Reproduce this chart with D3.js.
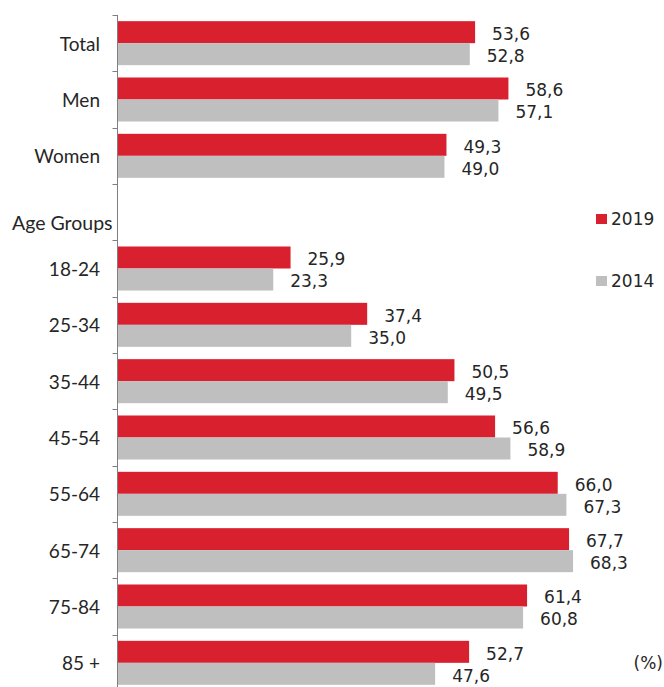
<!DOCTYPE html>
<html>
<head>
<meta charset="utf-8">
<script src="https://cdn.jsdelivr.net/npm/d3@7"></script>
<style>
  html, body { margin: 0; padding: 0; background: #fff; }
  svg { display: block; }
</style>
</head>
<body>
<svg id="chart" width="664" height="687"></svg>
<script>
// ---- data ----
const categories = ["Total", "Men", "Women", "Age Groups", "18-24", "25-34", "35-44", "45-54", "55-64", "65-74", "75-84", "85 +"];
const seriesNames = ["2019", "2014"];
const values2019 = [53.6, 58.6, 49.3, null, 25.9, 37.4, 50.5, 56.6, 66.0, 67.7, 61.4, 52.7];
const values2014 = [52.8, 57.1, 49.0, null, 23.3, 35.0, 49.5, 58.9, 67.3, 68.3, 60.8, 47.6];
const headerCategory = "Age Groups";
const unitLabel = "(%)";

// ---- styles ----
const colors = { "2019": "#d9202f", "2014": "#bfbfbf" };
const catFont = "Lato, 'Open Sans', sans-serif";
const valFont = "'DejaVu Sans', Verdana, sans-serif";
const textColor = "#262626";

const svg = d3.select("#chart");

const x = d3.scaleLinear().domain([0, 80]).range([118, 651]);
const y = d3.scaleBand().domain(categories).range([15, 691]).paddingInner(0).paddingOuter(0);
const yInner = d3.scaleBand().domain(seriesNames).range([0, y.bandwidth()]).paddingInner(0).paddingOuter(0.28);

const rows = categories.map((c, i) => ({ cat: c, "2019": values2019[i], "2014": values2014[i] }));
const fmt = v => d3.format(".1f")(v).replace(".", ",");

// bars
const groups = svg.append("g").selectAll("g")
  .data(rows.filter(r => r["2019"] != null))
  .join("g")
  .attr("transform", d => `translate(0,${y(d.cat)})`);

groups.selectAll("rect")
  .data(d => seriesNames.map(s => ({ s, v: d[s] })))
  .join("rect")
  .attr("x", x(0))
  .attr("y", d => yInner(d.s))
  .attr("width", d => x(d.v) - x(0))
  .attr("height", yInner.bandwidth())
  .attr("fill", d => colors[d.s]);

groups.selectAll("text")
  .data(d => seriesNames.map(s => ({ s, v: d[s] })))
  .join("text")
  .attr("x", d => x(d.v) + 17)
  .attr("y", d => yInner(d.s) + yInner.bandwidth() / 2 + 2)
  .attr("dominant-baseline", "central")
  .attr("font-family", valFont)
  .attr("font-size", 17)
  .attr("fill", textColor)
  .text(d => fmt(d.v));

// axis line (domain) via d3 axis, no ticks at centers
const axisG = svg.append("g")
  .attr("transform", `translate(${x(0) - 0.5},0)`)
  .call(d3.axisLeft(y).tickSize(0).tickFormat(""));
axisG.select(".domain").attr("stroke", "#7f7f7f").attr("d", `M0,${y.range()[0]}V${y.range()[1]}`);

// ticks at band boundaries
const boundaries = categories.map(c => y(c)).concat([y.range()[1]]);
axisG.selectAll(".bnd")
  .data(boundaries)
  .join("line")
  .attr("class", "bnd")
  .attr("x1", -5).attr("x2", 0)
  .attr("y1", d => Math.round(d) + 0.5).attr("y2", d => Math.round(d) + 0.5)
  .attr("stroke", "#7f7f7f");

// category labels
svg.append("g").selectAll("text")
  .data(categories.filter(c => c !== headerCategory))
  .join("text")
  .attr("x", x(0) - 18)
  .attr("y", c => y(c) + y.bandwidth() / 2)
  .attr("text-anchor", "end")
  .attr("dominant-baseline", "central")
  .attr("font-family", catFont)
  .attr("font-size", 19)
  .attr("fill", textColor)
  .text(c => c);

// header "Age Groups"
svg.append("text")
  .attr("x", 12)
  .attr("y", y(headerCategory) + y.bandwidth() / 2 + 10)
  .attr("dominant-baseline", "central")
  .attr("font-family", catFont)
  .attr("font-size", 19.5)
  .attr("fill", textColor)
  .text(headerCategory);

// legend
const legendY = { "2019": 219, "2014": 281 };
const lg = svg.append("g").selectAll("g")
  .data(seriesNames)
  .join("g")
  .attr("transform", s => `translate(596,${legendY[s]})`);
lg.append("rect").attr("x", 0).attr("y", -5).attr("width", 11).attr("height", 10).attr("fill", s => colors[s]);
lg.append("text")
  .attr("x", 15).attr("y", 0)
  .attr("dominant-baseline", "central")
  .attr("font-family", valFont)
  .attr("font-size", 17)
  .attr("fill", textColor)
  .text(s => s);

// unit label
svg.append("text")
  .attr("x", 663)
  .attr("y", y("85 +") + y.bandwidth() / 2)
  .attr("text-anchor", "end")
  .attr("dominant-baseline", "central")
  .attr("font-family", valFont)
  .attr("font-size", 17)
  .attr("fill", textColor)
  .text(unitLabel);
</script>
</body>
</html>
